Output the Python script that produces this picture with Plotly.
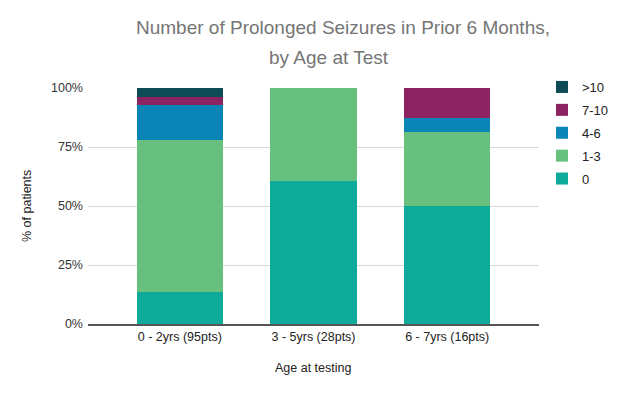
import plotly.graph_objects as go

categories = ["0 - 2yrs (95pts)", "3 - 5yrs (28pts)", "6 - 7yrs (16pts)"]
series_names = ["0", "1-3", "4-6", "7-10", ">10"]
vals_0 = [13.7, 60.7, 50.0]
vals_1_3 = [64.2, 39.3, 31.25]
vals_4_6 = [14.7, 0, 6.25]
vals_7_10 = [3.7, 0, 12.5]
vals_gt10 = [3.7, 0, 0]
y_ticks = [0, 25, 50, 75, 100]
y_tick_labels = ["0%", "25%", "50%", "75%", "100%"]

series_values = [vals_0, vals_1_3, vals_4_6, vals_7_10, vals_gt10]
colors = ["#0eab9b", "#68c07f", "#0a85b5", "#8b2461", "#0e4b57"]

W, H = 624, 394
L, R, T, B = 88, 85, 88, 70
pw = W - L - R
ph = H - T - B

def px(x):
    return (x - L) / pw

def py(y):
    return (H - B - y) / ph

fig = go.Figure()
n = len(series_names)
for i, (name, vals, col) in enumerate(zip(series_names, series_values, colors)):
    fig.add_trace(go.Bar(
        x=categories, y=vals, name=name, legendgroup=name,
        legendrank=n - i,
        marker=dict(color=col, line=dict(width=0)),
        hovertemplate="%{x}<br>" + name + ": %{y}%<extra></extra>",
    ))

font = "Liberation Sans, Arial, sans-serif"
fig.update_layout(
    width=W, height=H,
    margin=dict(l=L, r=R, t=T, b=B, autoexpand=False),
    barmode="stack",
    bargap=0.353,
    paper_bgcolor="white",
    plot_bgcolor="white",
    font=dict(family=font, size=13, color="#222222"),
    showlegend=True,
    legend=dict(
        traceorder="grouped",
        tracegroupgap=3,
        xref="container", yref="container",
        x=542 / W, y=1 - 72 / H,
        xanchor="left", yanchor="top",
        font=dict(size=13, color="#222222"),
        itemwidth=30,
        bgcolor="rgba(0,0,0,0)",
    ),
    xaxis=dict(
        range=[-0.687, 2.687],
        showgrid=False, automargin=False,
        showline=True, linecolor="#555555", linewidth=1.5,
        ticks="", tickfont=dict(size=12.5, color="#222222"),
        fixedrange=True,
    ),
    yaxis=dict(
        range=[0, 100], automargin=False,
        tickvals=y_ticks, ticktext=y_tick_labels,
        ticklabelstandoff=4,
        showgrid=True, gridcolor="#d9d9d9", gridwidth=1,
        zeroline=False, showline=False,
        ticks="", tickfont=dict(size=12.5, color="#333333"),
        fixedrange=True,
    ),
    annotations=[
        dict(text="Number of Prolonged Seizures in Prior 6 Months,", xref="paper", yref="paper",
             x=px(343), y=py(27), xanchor="center", yanchor="middle", showarrow=False,
             font=dict(size=19, color="#757575", family=font)),
        dict(text="by Age at Test", xref="paper", yref="paper",
             x=px(329), y=py(58), xanchor="center", yanchor="middle", showarrow=False,
             font=dict(size=19, color="#757575", family=font)),
        dict(text="% of patients", xref="paper", yref="paper",
             x=px(27), y=py(206), xanchor="center", yanchor="middle", showarrow=False,
             textangle=-90, font=dict(size=12.5, color="#222222", family=font)),
        dict(text="Age at testing", xref="paper", yref="paper",
             x=px(313), y=py(368), xanchor="center", yanchor="middle", showarrow=False,
             font=dict(size=12.5, color="#222222", family=font)),
    ],
)

fig.write_html(
    "out.html",
    config={"displayModeBar": False},
    post_script="document.body.style.margin='0';document.body.style.padding='0';",
)
